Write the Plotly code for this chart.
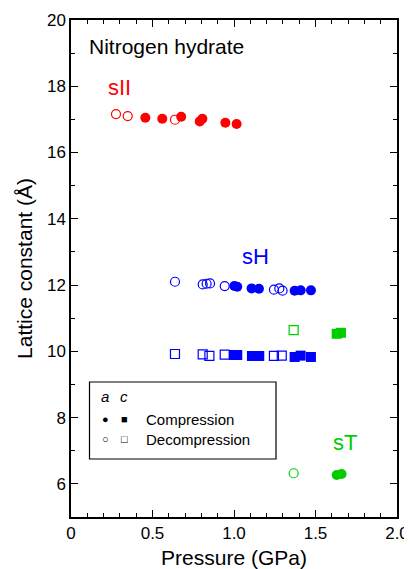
import plotly.graph_objects as go

RED = "#ff0000"
BLUE = "#0000ff"
GREEN = "#00cc00"

# sII lattice a (compression / decompression)
sII_comp_P = [0.456, 0.56, 0.676, 0.79, 0.806, 0.947, 1.016]
sII_comp_a = [17.05, 17.02, 17.08, 16.94, 17.02, 16.90, 16.86]
sII_dec_P = [0.276, 0.348, 0.638]
sII_dec_a = [17.16, 17.10, 16.99]

# sH lattice a
sH_a_comp_P = [1.002, 1.02, 1.108, 1.153, 1.372, 1.409, 1.472]
sH_a_comp = [11.97, 11.95, 11.90, 11.89, 11.83, 11.84, 11.84]
sH_a_dec_P = [0.638, 0.808, 0.832, 0.853, 0.943, 1.245, 1.278, 1.298]
sH_a_dec = [12.10, 12.02, 12.04, 12.05, 11.97, 11.86, 11.90, 11.83]

# sH lattice c
sH_c_comp_P = [1.0, 1.02, 1.11, 1.155, 1.372, 1.409, 1.472]
sH_c_comp = [9.89, 9.89, 9.86, 9.86, 9.83, 9.87, 9.83]
sH_c_dec_P = [0.638, 0.808, 0.849, 0.943, 1.245, 1.293]
sH_c_dec = [9.92, 9.91, 9.86, 9.90, 9.86, 9.87]

# sT lattice a and c
sT_a_comp_P = [1.63, 1.66]
sT_a_comp = [6.27, 6.30]
sT_a_dec_P = [1.366]
sT_a_dec = [6.32]
sT_c_comp_P = [1.63, 1.656]
sT_c_comp = [10.53, 10.56]
sT_c_dec_P = [1.366]
sT_c_dec = [10.64]

x_ticks = [0, 0.5, 1.0, 1.5, 2.0]
x_labels = ["0", "0.5", "1.0", "1.5", "2.0"]
y_ticks = [6, 8, 10, 12, 14, 16, 18, 20]

fig = go.Figure()


def add(xs, ys, color, symbol, filled):
    if filled:
        marker = dict(color=color, symbol=symbol, size=10, line=dict(width=0))
    else:
        marker = dict(color="rgba(0,0,0,0)", symbol=symbol, size=9,
                      line=dict(color=color, width=1.2))
    fig.add_trace(go.Scatter(x=xs, y=ys, mode="markers", marker=marker,
                             showlegend=False, hoverinfo="x+y"))


add(sII_comp_P, sII_comp_a, RED, "circle", True)
add(sII_dec_P, sII_dec_a, RED, "circle", False)
add(sH_a_comp_P, sH_a_comp, BLUE, "circle", True)
add(sH_a_dec_P, sH_a_dec, BLUE, "circle", False)
add(sH_c_comp_P, sH_c_comp, BLUE, "square", True)
add(sH_c_dec_P, sH_c_dec, BLUE, "square", False)
add(sT_a_comp_P, sT_a_comp, GREEN, "circle", True)
add(sT_a_dec_P, sT_a_dec, GREEN, "circle", False)
add(sT_c_comp_P, sT_c_comp, GREEN, "square", True)
add(sT_c_dec_P, sT_c_dec, GREEN, "square", False)

font = "Liberation Sans, Arial, sans-serif"

# the page adds an 8px body margin; the figure is sized to fit the window
fig.update_layout(
    width=404, height=561,
    margin=dict(l=63, r=15, t=12, b=52),
    paper_bgcolor="white", plot_bgcolor="white",
    font=dict(family=font, size=17, color="black"),
    xaxis=dict(range=[0, 2.0], tickvals=x_ticks, ticktext=x_labels,
               automargin=False,
               ticks="inside", ticklen=7, tickwidth=1, tickcolor="black",
               minor=dict(dtick=0.1, ticks="inside", ticklen=4, tickcolor="black"),
               showline=True, linecolor="black", linewidth=1.5, mirror="allticks",
               showgrid=False, zeroline=False,
               title=dict(text="Pressure (GPa)", font=dict(size=21), standoff=10),
               tickfont=dict(size=17)),
    yaxis=dict(range=[5, 20], tickvals=y_ticks,
               automargin=False,
               ticks="inside", ticklen=7, tickwidth=1, tickcolor="black",
               minor=dict(dtick=1, ticks="inside", ticklen=4, tickcolor="black"),
               showline=True, linecolor="black", linewidth=1.5, mirror="allticks",
               showgrid=False, zeroline=False,
               title=dict(text="Lattice constant (Å)", font=dict(size=21), standoff=9),
               tickfont=dict(size=17)),
)

ann = [
    dict(x=0.1, y=19.2, xref="x", yref="y", text="Nitrogen hydrate", showarrow=False,
         xanchor="left", yanchor="middle", font=dict(size=21)),
    dict(x=0.3, y=17.95, xref="x", yref="y", text="sII", showarrow=False,
         xanchor="center", yanchor="middle", font=dict(size=22, color=RED)),
    dict(x=1.13, y=12.85, xref="x", yref="y", text="sH", showarrow=False,
         xanchor="center", yanchor="middle", font=dict(size=22, color=BLUE)),
    dict(x=1.68, y=7.25, xref="x", yref="y", text="sT", showarrow=False,
         xanchor="center", yanchor="middle", font=dict(size=22, color=GREEN)),
]


# legend box (paper coordinates, from window pixel positions)
def px_x(p):
    return (p - 71) / (397 - 71)


def px_y(p):
    return (517 - p) / (517 - 20)


fig.add_shape(type="rect", xref="paper", yref="paper",
              x0=px_x(89.5), x1=px_x(276), y0=px_y(459), y1=px_y(382),
              line=dict(color="black", width=1.2), fillcolor="white", layer="below")

ann += [
    dict(x=px_x(105), y=px_y(396), xref="paper", yref="paper", text="<i>a</i>",
         showarrow=False, xanchor="center", yanchor="middle", font=dict(size=15)),
    dict(x=px_x(124), y=px_y(396), xref="paper", yref="paper", text="<i>c</i>",
         showarrow=False, xanchor="center", yanchor="middle", font=dict(size=15)),
    dict(x=px_x(105), y=px_y(419), xref="paper", yref="paper", text="●",
         showarrow=False, xanchor="center", yanchor="middle", font=dict(size=11)),
    dict(x=px_x(124), y=px_y(419), xref="paper", yref="paper", text="■",
         showarrow=False, xanchor="center", yanchor="middle", font=dict(size=11)),
    dict(x=px_x(105), y=px_y(439), xref="paper", yref="paper", text="○",
         showarrow=False, xanchor="center", yanchor="middle", font=dict(size=11)),
    dict(x=px_x(124), y=px_y(439), xref="paper", yref="paper", text="□",
         showarrow=False, xanchor="center", yanchor="middle", font=dict(size=11)),
    dict(x=px_x(144), y=px_y(419), xref="paper", yref="paper", text="Compression",
         showarrow=False, xanchor="left", yanchor="middle", font=dict(size=15)),
    dict(x=px_x(144), y=px_y(439), xref="paper", yref="paper", text="Decompression",
         showarrow=False, xanchor="left", yanchor="middle", font=dict(size=15)),
]
fig.update_layout(annotations=ann)

fig.write_html("out.html")
